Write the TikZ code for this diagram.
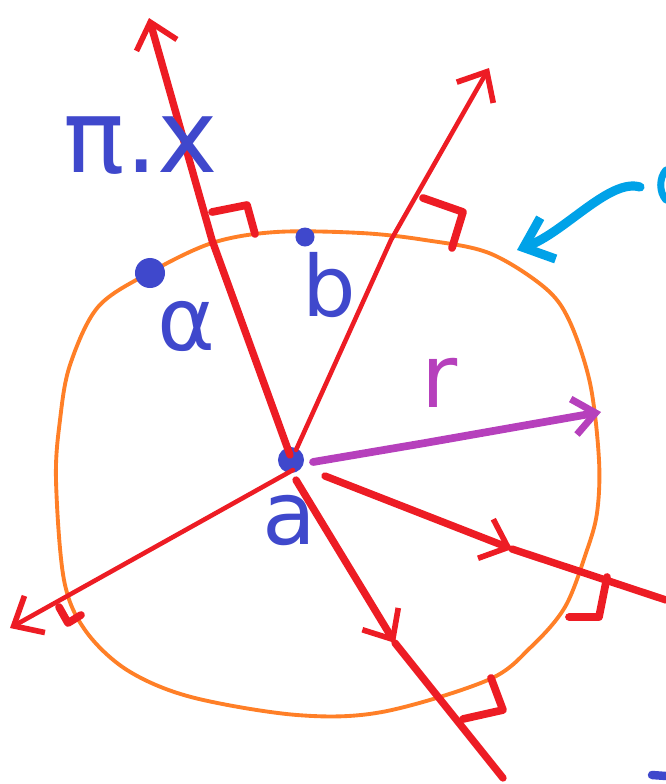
\documentclass[tikz,border=0pt]{standalone}
\usepackage{fontspec}
\setmainfont{DejaVu Sans}
\usetikzlibrary{arrows.meta}
\definecolor{red2}{RGB}{237,28,36}
\definecolor{orange2}{RGB}{255,127,39}
\definecolor{blue2}{RGB}{63,72,204}
\definecolor{purple2}{RGB}{182,64,188}
\definecolor{cyan2}{RGB}{0,162,232}
\tikzset{
  ray/.style={draw=red2, line width=1.3pt, line cap=round, line join=round},
  heavyray/.style={ray, line width=2.1pt},
  raytip/.style={-{Straight Barb[length=2.4mm, width=4.2mm, line width=1.6pt]}},
  rightmark/.style={draw=red2, line width=2.2pt, line cap=round, line join=round},
  sphere/.style={draw=orange2, line width=1.1pt},
  radius/.style={draw=purple2, line width=2.2pt, line cap=round,
    -{Straight Barb[length=2.2mm, width=3.6mm, line width=2pt]}},
  pointer/.style={draw=cyan2, line width=2.6pt, line cap=round,
    -{Straight Barb[length=2.6mm, width=4.4mm, line width=2.6pt]}},
  dot/.style={circle, fill=blue2, inner sep=0pt},
  handlabel/.style={text=blue2, font=\fontsize{25}{28}\selectfont, inner sep=0pt}
}
\begin{document}
\begin{tikzpicture}[x=0.01cm, y=-0.01cm]
\useasboundingbox (0,0) rectangle (666,784);
% sphere
\draw[sphere] plot[smooth cycle, tension=0.55] coordinates {
  (56,480) (60,420) (70,365) (98,307) (149,273) (212,243) (276,232)
  (361,233) (425,240) (489,253) (544,287) (569,320) (590,383) (599,460)
  (597,513) (586,553) (565,607) (531,647) (488,680) (382,712) (297,715)
  (191,697) (127,670) (85,630) (64,580)};

% points
\node[dot, minimum size=0.26cm] (centre) at (291,460) {};
\node[dot, minimum size=0.3cm] (pointa) at (150,273) {};
\node[dot, minimum size=0.19cm] (pointb) at (305,237) {};

% rays from the centre
\coordinate (upstart) at (290,455);
\coordinate (uptip) at (149,18);
\coordinate (rightstart) at (296,450);
\coordinate (righttip) at (489,68);
\coordinate (leftstart) at (293,470);
\coordinate (lefttip) at (10,628);
\coordinate (downstart) at (296,480);
\coordinate (downmid) at (395,643);
\coordinate (downend) at (503,778);
\coordinate (eaststart) at (325,476);
\coordinate (eastmid) at (512,549);
\coordinate (eastend) at (666,600);

\draw[heavyray, raytip] (upstart) -- (212,240) -- (uptip);
\draw[ray, raytip] (rightstart) -- (391,240) -- (righttip);
\draw[ray, raytip] (leftstart) -- (lefttip);
\draw[heavyray, raytip] (downstart) -- (downmid);
\draw[heavyray] (downmid) -- (downend);
\draw[heavyray, raytip] (eaststart) -- (eastmid);
\draw[heavyray] (eastmid) -- (eastend);

% right angle marks
\draw[rightmark] (212,212) -- (247,205) -- (255,234);
\draw[rightmark] (423,198) -- (463,212) -- (452,248);
\draw[rightmark] (59,607) -- (68,623) -- (81,615);
\draw[rightmark] (491,678) -- (503,710) -- (463,719);
\draw[rightmark] (607,577) -- (599,617) -- (569,617);

% radius
\coordinate (rstart) at (313,462);
\coordinate (rtip) at (601,412);
\draw[radius] (rstart) -- (425,443) -- (rtip);

% pointer to the sphere
\coordinate (pointerstart) at (640,187);
\coordinate (pointertip) at (517,250);
\draw[pointer] (pointerstart) .. controls (610,178) and (565,232) .. (pointertip);
\draw[cyan2, line width=2pt, line cap=round] (666,170) .. controls (659,178) and (659,192) .. (666,200);
\draw[blue2, line width=2.4pt, line cap=round] (652,775) -- (666,776);

% labels
\node[handlabel, font=\fontsize{29}{32}\selectfont] (planelabel) at (141,146) {π.x};
\node[handlabel] (alabel) at (186,326) {α};
\node[handlabel, font=\fontsize{24}{28}\selectfont] (blabel) at (329,285) {b};
\node[handlabel, text=purple2] (rlabel) at (440,383) {r};
\node[handlabel] (centrelabel) at (289,520) {a};
\end{tikzpicture}
\end{document}
